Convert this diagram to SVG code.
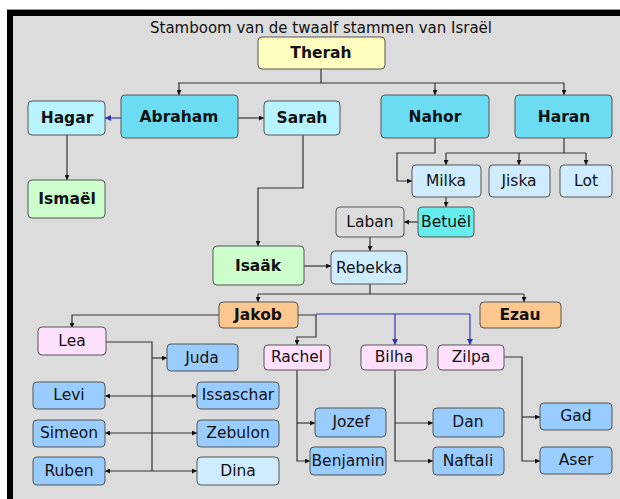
<svg xmlns="http://www.w3.org/2000/svg" width="620" height="499" viewBox="0 0 620 499">
<defs>
<marker id="ah" viewBox="0 0 10 10" refX="10" refY="5" markerWidth="5" markerHeight="5" orient="auto-start-reverse" markerUnits="userSpaceOnUse"><path d="M0,0 L10,5 L0,10 z" fill="#111"/></marker>
<marker id="ahb" viewBox="0 0 10 10" refX="10" refY="5" markerWidth="6" markerHeight="6" orient="auto-start-reverse" markerUnits="userSpaceOnUse"><path d="M0,0 L10,5 L0,10 z" fill="#3333bb"/></marker>
<style>
.n rect{stroke:#555;stroke-width:1}
.n text{font-family:"DejaVu Sans",Verdana,sans-serif;font-size:15.5px;fill:#111;text-anchor:middle;dominant-baseline:central}
.b text{font-weight:bold;font-size:15.5px}
.yel{fill:#ffffc0}.cy{fill:#6cdcf2}.lc{fill:#b8f4ff}.gr{fill:#ccffcc}.lb{fill:#d0ecff}
.aq{fill:#66eeee}.gy{fill:#dcdcdc}.pe{fill:#fcc890}.pk{fill:#ffe0ff}.bl{fill:#99ccff}
#edges path{fill:none;stroke:#333;stroke-width:1.2}
#edges path.blue{stroke:#3333bb}
</style>
</defs>
<rect x="0" y="0" width="620" height="499" fill="#fff"/>
<rect x="7" y="10" width="613" height="489" fill="#000"/>
<rect x="13" y="16" width="607" height="483" fill="#dcdcdc"/>
<line x1="7" y1="9.5" x2="620" y2="9.5" stroke="#999"/>
<text x="321" y="28" font-family="DejaVu Sans,Verdana,sans-serif" font-size="15" text-anchor="middle" dominant-baseline="central" fill="#111">Stamboom van de twaalf stammen van Israël</text>

<g id="edges">
<path d="M321,69 V83 M178,83 H564" />
<path d="M179,83 V95" marker-end="url(#ah)"/>
<path d="M435,83 V95" marker-end="url(#ah)"/>
<path d="M564,83 V95" marker-end="url(#ah)"/>
<path class="blue" d="M121,118 H105" marker-end="url(#ahb)"/>
<path d="M238,118 H264" marker-end="url(#ah)"/>
<path d="M67,135 V180" marker-end="url(#ah)"/>
<path d="M303,135 V188 H258 V246" marker-end="url(#ah)"/>
<path d="M435,138 V153 H397 V181 H412" marker-end="url(#ah)"/>
<path d="M564,138 V153 M446,153 H586"/>
<path d="M446,153 V165" marker-end="url(#ah)"/>
<path d="M519,153 V165" marker-end="url(#ah)"/>
<path d="M586,153 V165" marker-end="url(#ah)"/>
<path d="M446,197 V207" marker-end="url(#ah)"/>
<path d="M418,222 H404" marker-end="url(#ah)"/>
<path d="M370,237 V251" marker-end="url(#ah)"/>
<path d="M304,266 H331" marker-end="url(#ah)"/>
<path d="M370,284 V294 M258,294 H524"/>
<path d="M258,294 V302" marker-end="url(#ah)"/>
<path d="M524,294 V302" marker-end="url(#ah)"/>
<path d="M219,315 H72 V328" marker-end="url(#ah)"/>
<path d="M298,315 H316 V337 H297 V345" marker-end="url(#ah)"/>
<path class="blue" d="M316,314 H470"/>
<path class="blue" d="M395,314 V345" marker-end="url(#ahb)"/>
<path class="blue" d="M470,314 V345" marker-end="url(#ahb)"/>
<path d="M105,342 H152 V471"/>
<path d="M152,358 H167" marker-end="url(#ah)"/>
<path d="M105,396 H197" marker-start="url(#ah)" marker-end="url(#ah)"/>
<path d="M105,433 H197" marker-start="url(#ah)" marker-end="url(#ah)"/>
<path d="M105,471 H197" marker-start="url(#ah)" marker-end="url(#ah)"/>
<path d="M297,370 V461 H310" marker-end="url(#ah)"/>
<path d="M297,423 H315" marker-end="url(#ah)"/>
<path d="M395,370 V461 H433" marker-end="url(#ah)"/>
<path d="M395,423 H433" marker-end="url(#ah)"/>
<path d="M504,357 H522 V461 H540" marker-end="url(#ah)"/>
<path d="M522,417 H540" marker-end="url(#ah)"/>
</g>

<g id="therah" class="n b"><rect class="yel" x="258" y="37" width="127" height="32" rx="4"/><text x="321" y="53">Therah</text></g>
<g id="abraham" class="n b"><rect class="cy" x="121" y="95" width="117" height="43" rx="4"/><text x="179" y="117">Abraham</text></g>
<g id="hagar" class="n b"><rect class="lc" x="28" y="101" width="77" height="34" rx="4"/><text x="67" y="118">Hagar</text></g>
<g id="sarah" class="n b"><rect class="lc" x="264" y="101" width="76" height="34" rx="4"/><text x="302" y="118">Sarah</text></g>
<g id="nahor" class="n b"><rect class="cy" x="381" y="95" width="108" height="43" rx="4"/><text x="435" y="117">Nahor</text></g>
<g id="haran" class="n b"><rect class="cy" x="515" y="95" width="97" height="43" rx="4"/><text x="564" y="117">Haran</text></g>
<g id="ismael" class="n b"><rect class="gr" x="28" y="180" width="77" height="38" rx="4"/><text x="67" y="199">Ismaël</text></g>
<g id="isaak" class="n b"><rect class="gr" x="213" y="246" width="91" height="39" rx="4"/><text x="258" y="266">Isaäk</text></g>
<g id="rebekka" class="n"><rect class="lb" x="331" y="251" width="76" height="33" rx="4"/><text x="369" y="268">Rebekka</text></g>
<g id="milka" class="n"><rect class="lb" x="412" y="165" width="69" height="32" rx="4"/><text x="446" y="181">Milka</text></g>
<g id="jiska" class="n"><rect class="lb" x="489" y="165" width="61" height="32" rx="4"/><text x="519" y="181">Jiska</text></g>
<g id="lot" class="n"><rect class="lb" x="560" y="165" width="52" height="32" rx="4"/><text x="586" y="181">Lot</text></g>
<g id="betuel" class="n"><rect class="aq" x="418" y="207" width="56" height="30" rx="4"/><text x="446" y="222">Betuël</text></g>
<g id="laban" class="n"><rect class="gy" x="336" y="207" width="68" height="30" rx="4"/><text x="370" y="222">Laban</text></g>
<g id="jakob" class="n b"><rect class="pe" x="219" y="302" width="79" height="26" rx="4"/><text x="258" y="315">Jakob</text></g>
<g id="ezau" class="n b"><rect class="pe" x="480" y="302" width="81" height="26" rx="4"/><text x="520" y="315">Ezau</text></g>
<g id="lea" class="n"><rect class="pk" x="38" y="327" width="68" height="28" rx="4"/><text x="72" y="341">Lea</text></g>
<g id="rachel" class="n"><rect class="pk" x="264" y="345" width="66" height="25" rx="4"/><text x="297" y="357">Rachel</text></g>
<g id="bilha" class="n"><rect class="pk" x="361" y="345" width="66" height="25" rx="4"/><text x="394" y="357">Bilha</text></g>
<g id="zilpa" class="n"><rect class="pk" x="438" y="345" width="66" height="25" rx="4"/><text x="471" y="357">Zilpa</text></g>
<g id="juda" class="n"><rect class="bl" x="167" y="344" width="71" height="27" rx="4"/><text x="202" y="358">Juda</text></g>
<g id="levi" class="n"><rect class="bl" x="33" y="382" width="72" height="27" rx="4"/><text x="69" y="395">Levi</text></g>
<g id="simeon" class="n"><rect class="bl" x="33" y="420" width="72" height="27" rx="4"/><text x="69" y="433">Simeon</text></g>
<g id="ruben" class="n"><rect class="bl" x="33" y="457" width="72" height="28" rx="4"/><text x="69" y="471">Ruben</text></g>
<g id="issaschar" class="n"><rect class="bl" x="197" y="382" width="82" height="27" rx="4"/><text x="238" y="395">Issaschar</text></g>
<g id="zebulon" class="n"><rect class="bl" x="197" y="420" width="82" height="27" rx="4"/><text x="238" y="433">Zebulon</text></g>
<g id="dina" class="n"><rect class="lb" x="197" y="457" width="82" height="28" rx="4"/><text x="238" y="471">Dina</text></g>
<g id="jozef" class="n"><rect class="bl" x="315" y="408" width="71" height="29" rx="4"/><text x="351" y="422">Jozef</text></g>
<g id="benjamin" class="n"><rect class="bl" x="310" y="447" width="76" height="28" rx="4"/><text x="348" y="461">Benjamin</text></g>
<g id="dan" class="n"><rect class="bl" x="433" y="408" width="71" height="29" rx="4"/><text x="468" y="422">Dan</text></g>
<g id="naftali" class="n"><rect class="bl" x="433" y="447" width="71" height="28" rx="4"/><text x="468" y="461">Naftali</text></g>
<g id="gad" class="n"><rect class="bl" x="540" y="403" width="72" height="27" rx="4"/><text x="576" y="416">Gad</text></g>
<g id="aser" class="n"><rect class="bl" x="540" y="447" width="72" height="27" rx="4"/><text x="576" y="460">Aser</text></g>
</svg>
